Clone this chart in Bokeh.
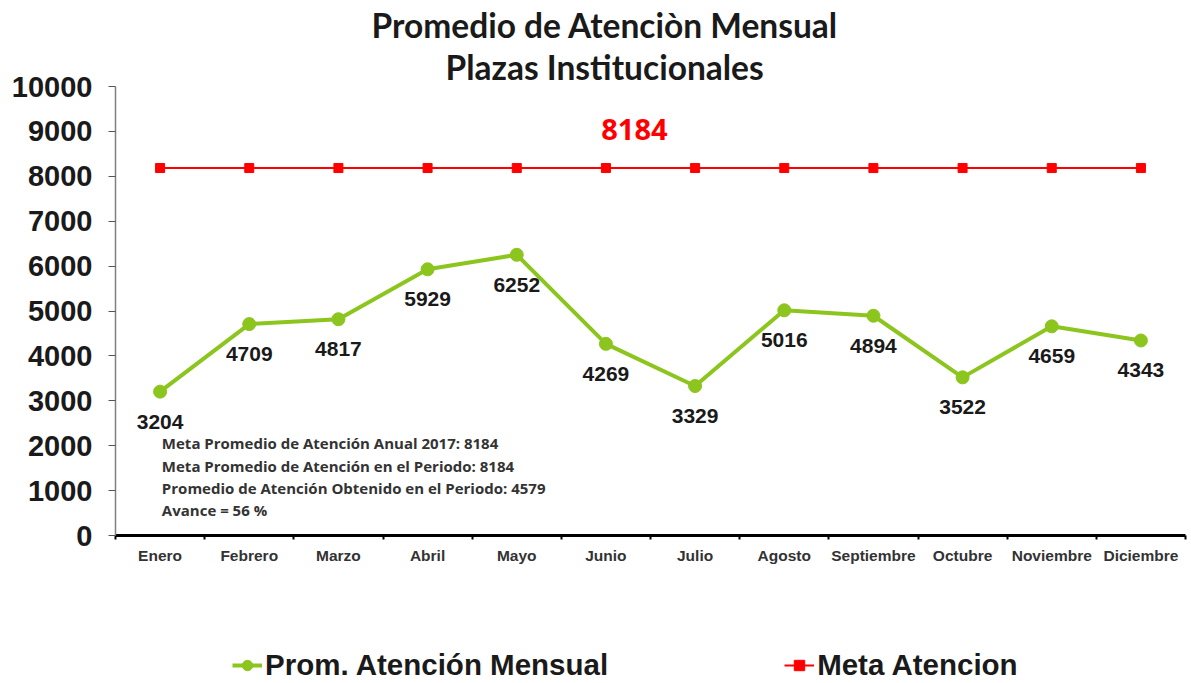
from bokeh.plotting import figure
from bokeh.layouts import column
from bokeh.models import (ColumnDataSource, Label, Legend, LegendItem, Range1d,
                          FixedTicker, SingleIntervalTicker, Title)
from bokeh.core.properties import value
from bokeh.embed import file_html
from bokeh.resources import INLINE

months = ["Enero", "Febrero", "Marzo", "Abril", "Mayo", "Junio", "Julio",
          "Agosto", "Septiembre", "Octubre", "Noviembre", "Diciembre"]
promedio = [3204, 4709, 4817, 5929, 6252, 4269, 3329, 5016, 4894, 3522, 4659, 4343]
meta = [8184] * 12
meta_label = "8184"
title_lines = ["Promedio  de Atenciòn Mensual", "Plazas  Institucionales"]
notes = ["Meta Promedio de Atención Anual 2017:  8184",
         "Meta Promedio de Atención en el Periodo: 8184",
         "Promedio de Atención Obtenido en el Periodo: 4579",
         "Avance = 56  %"]
legend_labels = ["Prom. Atención Mensual", "Meta Atencion"]

GREEN = "#8CC51E"
RED = "#FF0000"
W = 1188

xs = [i + 0.5 for i in range(len(months))]
src = ColumnDataSource(dict(x=xs, prom=promedio, meta=meta,
                            lbl=[str(v) for v in promedio]))

p = figure(width=W, height=597, output_backend="svg", toolbar_location=None,
           x_range=Range1d(0, 12), y_range=Range1d(0, 10000),
           min_border_left=115, min_border_right=3, min_border_top=86,
           min_border_bottom=62)
p.outline_line_color = None
p.xgrid.visible = False
p.ygrid.visible = False
p.background_fill_color = "white"
p.border_fill_color = "white"

# Y axis
p.yaxis.ticker = SingleIntervalTicker(interval=1000)
p.yaxis.major_label_text_font = "Liberation Sans"
p.yaxis.major_label_text_font_style = "bold"
p.yaxis.major_label_text_font_size = "29px"
p.yaxis.major_label_text_color = "#1a1a1a"
p.yaxis.axis_line_color = "#808080"
p.yaxis.axis_line_width = 1.5
p.yaxis.major_tick_line_color = "#555555"
p.yaxis.major_tick_in = 0
p.yaxis.major_tick_out = 7
p.yaxis.minor_tick_line_color = None
p.yaxis.major_label_standoff = 16

# X axis
p.xaxis.ticker = FixedTicker(ticks=xs, minor_ticks=list(range(0, 13)))
p.xaxis.major_label_overrides = {x: m for x, m in zip(xs, months)}
p.xaxis.major_tick_line_color = None
p.xaxis.minor_tick_line_color = "black"
p.xaxis.minor_tick_line_width = 2
p.xaxis.minor_tick_in = 0
p.xaxis.minor_tick_out = 4
p.xaxis.axis_line_color = "black"
p.xaxis.axis_line_width = 3
p.xaxis.major_label_text_font = "Liberation Sans"
p.xaxis.major_label_text_font_style = "bold"
p.xaxis.major_label_text_font_size = "15.5px"
p.xaxis.major_label_text_color = "#333333"
p.xaxis.major_label_standoff = 5

# Series
p.line("x", "meta", source=src, line_color=RED, line_width=2)
p.scatter("x", "meta", source=src, marker="square", size=9,
          fill_color=RED, line_color=RED)
p.line("x", "prom", source=src, line_color=GREEN, line_width=4)
p.scatter("x", "prom", source=src, marker="circle", size=13,
          fill_color=GREEN, line_color=GREEN)

p.text("x", "prom", text="lbl", source=src, y_offset=30,
       text_align="center", text_baseline="middle",
       text_font=value("Liberation Sans"), text_font_style="bold",
       text_font_size="21px", text_color="#1a1a1a")

# Title (two lines, added closest-to-frame first)
for txt, stand, off in zip(reversed(title_lines), [0, 0], [330, 256]):
    p.add_layout(Title(text=txt, align="left", offset=off, standoff=stand,
                       text_font="Lato", text_font_style="bold",
                       text_font_size="33.5px", text_color="#1a1a1a"), "above")

# Meta value label
p.add_layout(Label(x=5.82, y=9050, text=meta_label, text_align="center",
                   text_baseline="middle", text_font="Open Sans",
                   text_font_style="bold", text_font_size="29px",
                   text_color=RED))

# Notes block
for txt, yy in zip(notes, [2049, 1537, 1047, 557]):
    p.add_layout(Label(x=0.52, y=yy, text=txt, text_align="left",
                       text_baseline="middle", text_font="Open Sans",
                       text_font_style="bold", text_font_size="15px",
                       text_color="#333333"))

# Legend strip below the chart (its renderers fall outside this strip's view)
p2 = figure(width=W, height=83, output_backend="svg", toolbar_location=None,
            x_range=Range1d(0, 1), y_range=Range1d(0, 1), min_border=0)
p2.axis.visible = False
p2.grid.visible = False
p2.outline_line_color = None
l1 = p2.line("x", "prom", source=src, line_color=GREEN, line_width=4)
s1 = p2.scatter("x", "prom", source=src, marker="circle", size=12,
                fill_color=GREEN, line_color=GREEN)
l2 = p2.line("x", "meta", source=src, line_color=RED, line_width=2)
s2 = p2.scatter("x", "meta", source=src, marker="square", size=9,
                fill_color=RED, line_color=RED)

legend = Legend(items=[
    LegendItem(label=legend_labels[0], renderers=[l1, s1]),
    LegendItem(label=legend_labels[1], renderers=[l2, s2]),
], orientation="horizontal", location=(117, -2))
legend.border_line_color = None
legend.background_fill_alpha = 0
legend.padding = 0
legend.margin = 0
legend.spacing = 176
legend.label_standoff = 3
legend.glyph_width = 30
legend.glyph_height = 26
legend.label_height = 26
legend.label_text_font = "Liberation Sans"
legend.label_text_font_style = "bold"
legend.label_text_font_size = "29.5px"
legend.label_text_color = "#1a1a1a"
legend.label_text_baseline = "middle"
p2.add_layout(legend)

open("out.html", "w").write(file_html(column(p, p2), INLINE))
